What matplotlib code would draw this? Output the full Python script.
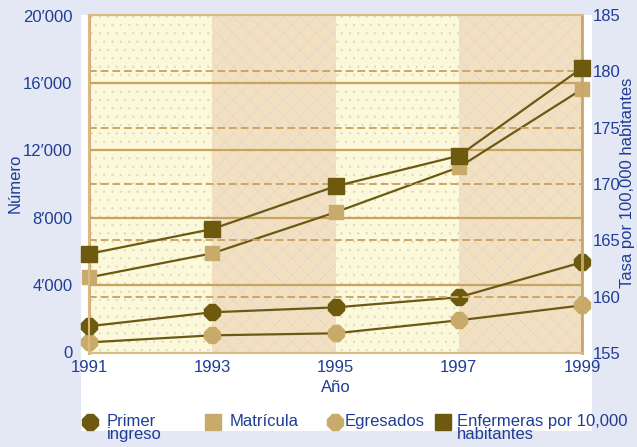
import matplotlib.pyplot as plt
from matplotlib.lines import Line2D
from matplotlib.patches import Rectangle

plt.rcParams['font.family'] = ['Liberation Sans Narrow', 'Liberation Sans', 'DejaVu Sans']
plt.rcParams['hatch.linewidth'] = 0.4

# Data
years = [1991, 1993, 1995, 1997, 1999]
primer_ingreso = [1550, 2380, 2670, 3270, 5350]
matricula = [4450, 5880, 8320, 10990, 15630]
egresados = [590, 1010, 1130, 1900, 2790]
enfermeras = [163.8, 166.0, 169.8, 172.5, 180.3]

left_ticks = [0, 4000, 8000, 12000, 16000, 20000]
left_labels = ["0", "4\u2032000", "8\u2032000", "12\u2032000", "16\u2032000", "20\u2032000"]
right_ticks = [155, 160, 165, 170, 175, 180, 185]

blue = '#1F3D96'
dark = '#6E5A0E'
tan = '#C8AB6B'
line_col = '#6B5A14'

fig = plt.figure(figsize=(6.37, 4.47), dpi=100)
fig.patch.set_facecolor('#E4E8F4')

# white panel behind the chart and legend
fig.add_artist(Rectangle((0.1272, 0.0358), 0.8022, 0.9306, transform=fig.transFigure,
                         facecolor='white', edgecolor='none', zorder=0))

ax = fig.add_axes([0.1397, 0.2103, 0.774, 0.7562])
ax.set_facecolor('#FDF9DC')
ax.set_xlim(1991, 1999)
ax.set_ylim(-40, 20040)

# alternating background bands
for i in range(len(years) - 1):
    col = '#FCF8DA' if i % 2 == 0 else '#F2E0C0'
    ax.axvspan(years[i], years[i + 1], facecolor=col, edgecolor='#DCD6CC',
               hatch='..' if i % 2 == 0 else 'xx', linewidth=0, zorder=0)

for t in left_ticks[1:-1]:
    ax.axhline(t, color='#C9A45C', lw=1.6, zorder=1)

ax2 = ax.twinx()
ax2.set_ylim(155, 184.5)
for t in right_ticks[1:-1]:
    ax2.axhline(t, color='#CBA66A', lw=1.4, ls=(0, (4, 2)), zorder=1)

ax.plot(years, matricula, color=line_col, lw=1.6, marker='s', ms=10,
        mfc=tan, mec=tan, clip_on=False, zorder=3)
ax.plot(years, egresados, color=line_col, lw=1.6, marker='8', ms=12,
        mfc=tan, mec=tan, clip_on=False, zorder=3)
ax.plot(years, primer_ingreso, color=line_col, lw=1.6, marker='8', ms=13,
        mfc=dark, mec=dark, clip_on=False, zorder=3)
ax2.plot(years, enfermeras, color=line_col, lw=1.6, marker='s', ms=12,
         mfc=dark, mec=dark, clip_on=False, zorder=3)

ax.set_yticks(left_ticks)
ax.set_yticklabels(left_labels)
ax.set_xticks(years)
ax2.set_yticks(right_ticks)
ax.tick_params(axis='y', length=0, pad=12, labelsize=12, labelcolor=blue)
ax.tick_params(axis='x', length=0, pad=5, labelsize=12, labelcolor=blue)
ax2.tick_params(axis='y', length=0, pad=8, labelsize=12, labelcolor=blue)

for a in (ax, ax2):
    for s in a.spines.values():
        s.set_color('#D8BC82')
        s.set_linewidth(1.5)
ax.spines['left'].set_color('#D0A070')
ax.spines['left'].set_linewidth(2)
ax2.spines['right'].set_color('#C8A86A')
ax2.spines['right'].set_linewidth(2)

ax.set_xlabel("A\u00f1o", color=blue, fontsize=12, labelpad=4)
fig.text(0.024, 0.59, "N\u00famero", rotation=90, color=blue, fontsize=12,
         ha='center', va='center')
fig.text(0.997, 0.59, "Tasa por 100,000 habitantes", rotation=90, color=blue,
         fontsize=12, ha='right', va='center')

# legend drawn along the bottom
legend_items = [
    (0.1413, 0.026, '8', 13, dark, "Primer\ningreso"),
    (0.3344, 0.026, 's', 11, tan, "Matr\u00edcula"),
    (0.5259, 0.0157, '8', 12, tan, "Egresados"),
    (0.6954, 0.022, 's', 12, dark, "Enfermeras por 10,000\nhabitantes"),
]
for x, dx, m, size, col, label in legend_items:
    fig.add_artist(Line2D([x], [0.056], marker=m, ms=size, mfc=col, mec=col,
                          transform=fig.transFigure))
    fig.text(x + dx, 0.074, label, color=blue, fontsize=12, ha='left',
             va='top', linespacing=0.85)

fig.savefig('out.png', dpi=100, facecolor=fig.get_facecolor())
